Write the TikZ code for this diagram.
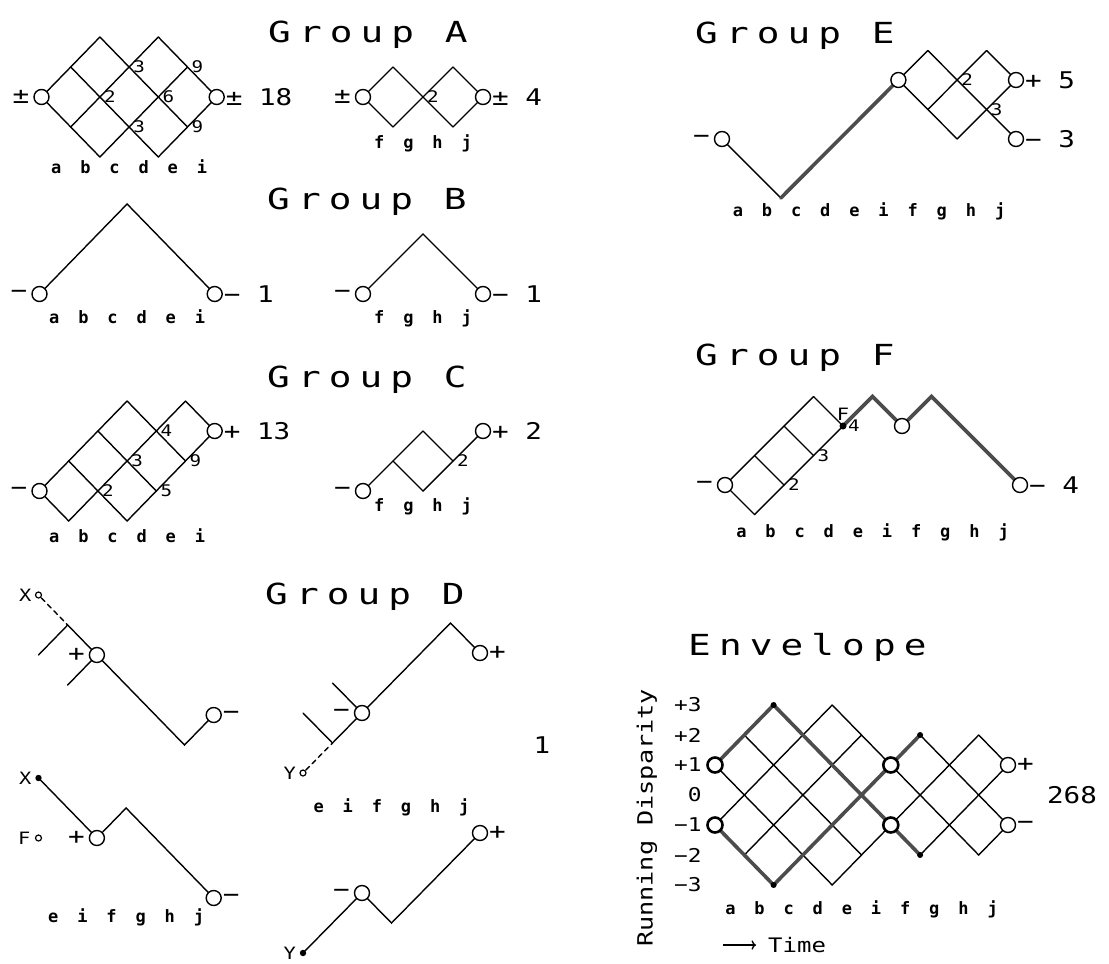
\documentclass[tikz,border=0pt]{standalone}
\usepackage{fontspec}
\usepackage{tkz-euclide}
\usetikzlibrary{arrows,calc}
\newfontfamily\ttlfont{DejaVu Sans Mono}[FakeStretch=1.3,LetterSpace=28]
\newfontfamily\plotfont{DejaVu Sans Mono}[FakeStretch=1.2]
\newfontfamily\bitfont{DejaVu Sans Mono}[LetterSpace=51]
\definecolor{PathClr}{rgb}{0.3,0.3,0.3}
\tikzset{
  title/.style={font=\fontsize{29}{29}\ttlfont,anchor=base west,inner sep=0pt},
  num/.style={font=\fontsize{23}{23}\plotfont,inner sep=0pt},
  cnt/.style={font=\fontsize{16}{16}\plotfont,inner sep=0pt,right=4pt},
  bits/.style={font=\fontsize{17}{17}\bitfont\bfseries,inner sep=0pt,anchor=base},
  axl/.style={font=\fontsize{19}{19}\plotfont,inner sep=0pt,anchor=east},
  mk/.style={font=\fontsize{17}{17}\plotfont,inner sep=0pt},
  ring/.style={draw,fill=white,line width=1.4pt},
  bigring/.style={draw,fill=white,line width=2.6pt},
  omark/.style={draw,fill=white,line width=1.2pt},
  fmark/.style={fill=black},
  heavy/.style={line width=3.6pt,color=PathClr,line cap=round},
  dashline/.style={line width=1.4pt,dash pattern=on 5pt off 4pt,shorten <=4pt}
}
\begin{document}
\begin{tikzpicture}[x=1pt,y=-1pt]
\useasboundingbox (0,0) rectangle (1109,964);
\tkzSetUpLine[line width=1.4pt,color=black]

\node[title] (tA) at (268,42) {Group A};
\node[title] (tB) at (267,209) {Group B};
\node[title] (tC) at (267,387) {Group C};
\node[title] (tD) at (265,604) {Group D};
\node[title] (tE) at (695,43) {Group E};
\node[title] (tF) at (695,365) {Group F};
\node[title] (tN) at (688,655) {Envelope};

\begin{scope}[shift={(41.5,97)},x=29.2pt,y=30pt]
\tkzDefPoints{0/0/A00,1/1/A11,1/-1/A1n1,2/2/A22,2/0/A20,2/-2/A2n2,3/1/A31,3/-1/A3n1,4/2/A42,4/0/A40,4/-2/A4n2,5/1/A51,5/-1/A5n1,6/0/A60}
\end{scope}
\begin{scope}[shift={(363,97)},x=30pt,y=30pt]
\tkzDefPoints{0/0/a00,1/1/a11,1/-1/a1n1,2/0/a20,3/1/a31,3/-1/a3n1,4/0/a40}
\end{scope}
\tkzDrawSegments(A00,A22 A1n1,A42 A2n2,A51 A4n2,A60 A00,A2n2 A11,A4n2 A22,A5n1 A42,A60)
\tkzDrawSegments(a00,a11 a1n1,a31 a3n1,a40 a00,a1n1 a11,a3n1 a31,a40)
\draw[ring] (A00) circle[radius=7.5pt] (A60) circle[radius=7.5pt] (a00) circle[radius=7.5pt] (a40) circle[radius=7.5pt];
\tkzLabelPoint[cnt](A20){2}
\tkzLabelPoint[cnt](A31){3}
\tkzLabelPoint[cnt](A3n1){3}
\tkzLabelPoint[cnt](A40){6}
\tkzLabelPoint[cnt](A51){9}
\tkzLabelPoint[cnt](A5n1){9}
\tkzLabelPoint[cnt](a20){2}
\tkzLabelPoint[num,left=12pt](A00){±}
\tkzLabelPoint[num,right=9pt](A60){± 18}
\tkzLabelPoint[num,left=12pt](a00){±}
\tkzLabelPoint[num,right=9pt](a40){± 4}
\node[bits] (lA) at (129.1,173) {a b c d e i};
\node[bits] (la) at (423,148) {f g h j};

\begin{scope}[shift={(39.5,294)},x=29.2pt,y=30pt]
\tkzDefPoints{0/0/B00,3/3/B33,6/0/B60}
\end{scope}
\begin{scope}[shift={(363,294)},x=30pt,y=30pt]
\tkzDefPoints{0/0/b00,2/2/b22,4/0/b40}
\end{scope}
\tkzDrawPolySeg(B00,B33,B60)
\tkzDrawPolySeg(b00,b22,b40)
\draw[ring] (B00) circle[radius=7.5pt] (B60) circle[radius=7.5pt] (b00) circle[radius=7.5pt] (b40) circle[radius=7.5pt];
\tkzLabelPoint[num,left=12pt](B00){−}
\tkzLabelPoint[num,right=9pt](B60){− 1}
\tkzLabelPoint[num,left=12pt](b00){−}
\tkzLabelPoint[num,right=9pt](b40){− 1}
\node[bits] (lB) at (127.1,323) {a b c d e i};
\node[bits] (lb) at (423,323) {f g h j};

\begin{scope}[shift={(39.5,491)},x=29.2pt,y=30pt]
\tkzDefPoints{0/0/C00,1/1/C11,1/-1/C1n1,2/2/C22,2/0/C20,3/3/C33,3/1/C31,3/-1/C3n1,4/2/C42,4/0/C40,5/3/C53,5/1/C51,6/2/C62}
\end{scope}
\begin{scope}[shift={(363,491)},x=30pt,y=30pt]
\tkzDefPoints{0/0/c00,1/1/c11,2/2/c22,2/0/c20,3/1/c31,4/2/c42}
\end{scope}
\tkzDrawSegments(C00,C33 C1n1,C53 C3n1,C62 C00,C1n1 C11,C3n1 C22,C40 C33,C51 C53,C62)
\tkzDrawSegments(c00,c22 c20,c42 c11,c20 c22,c31)
\draw[ring] (C00) circle[radius=7.5pt] (C62) circle[radius=7.5pt] (c00) circle[radius=7.5pt] (c42) circle[radius=7.5pt];
\tkzLabelPoint[cnt](C20){2}
\tkzLabelPoint[cnt](C31){3}
\tkzLabelPoint[cnt](C42){4}
\tkzLabelPoint[cnt](C40){5}
\tkzLabelPoint[cnt](C51){9}
\tkzLabelPoint[cnt](c31){2}
\tkzLabelPoint[num,left=12pt](C00){−}
\tkzLabelPoint[num,right=9pt](C62){+ 13}
\tkzLabelPoint[num,left=12pt](c00){−}
\tkzLabelPoint[num,right=9pt](c42){+ 2}
\node[bits] (lC) at (127.1,542) {a b c d e i};
\node[bits] (lc) at (423,511) {f g h j};

\begin{scope}[shift={(38.5,655)},x=29.2pt,y=30pt]
\tkzDefPoints{0/2/Dx,1/1/D11,0/0/D00,1/-1/D1n1,2/0/D20,5/-3/D5n3,6/-2/D6n2}
\end{scope}
\begin{scope}[shift={(38.5,838)},x=29.2pt,y=30pt]
\tkzDefPoints{0/2/Dl02,0/0/Dl00,2/0/Dl20,3/1/Dl31,6/-2/Dl6n2}
\end{scope}
\begin{scope}[shift={(303,713)},x=29.5pt,y=30pt]
\tkzDefPoints{0/0/Dr00,1/-1/Dr1n1,1/1/Dr11,2/0/Dr20,5/3/Dr53,6/2/Dr62,0/-2/Dry}
\end{scope}
\begin{scope}[shift={(303,953)},x=29.5pt,y=30pt]
\tkzDefPoints{0/0/Ds00,2/2/Ds22,3/1/Ds31,6/4/Ds64}
\end{scope}
\tkzDrawSegments(D00,D11 D11,D20 D1n1,D20)
\tkzDrawPolySeg(D20,D5n3,D6n2)
\tkzDrawSegments[dashline](Dx,D11)
\tkzDrawPolySeg(Dl02,Dl20,Dl31,Dl6n2)
\tkzDrawSegments(Dr00,Dr1n1 Dr1n1,Dr20 Dr11,Dr20)
\tkzDrawPolySeg(Dr20,Dr53,Dr62)
\tkzDrawSegments[dashline](Dry,Dr1n1)
\tkzDrawPolySeg(Ds00,Ds22,Ds31,Ds64)
\draw[ring] (D20) circle[radius=7.5pt] (D6n2) circle[radius=7.5pt] (Dl20) circle[radius=7.5pt] (Dl6n2) circle[radius=7.5pt];
\draw[ring] (Dr20) circle[radius=7.5pt] (Dr62) circle[radius=7.5pt] (Ds22) circle[radius=7.5pt] (Ds64) circle[radius=7.5pt];
\draw[omark] (Dx) circle[radius=3pt] (Dl00) circle[radius=3pt] (Dry) circle[radius=3pt];
\fill[fmark] (Dl02) circle[radius=3.2pt] (Ds00) circle[radius=3.2pt];
\tkzLabelPoint[mk,left=7pt](Dx){X}
\tkzLabelPoint[mk,left=7pt](Dl02){X}
\tkzLabelPoint[mk,left=8pt](Dl00){F}
\tkzLabelPoint[mk,left=7pt](Dry){Y}
\tkzLabelPoint[mk,left=7pt](Ds00){Y}
\tkzLabelPoint[num,left=12pt](D20){+}
\tkzLabelPoint[num,right=9pt](D6n2){−}
\tkzLabelPoint[num,left=12pt](Dl20){+}
\tkzLabelPoint[num,right=9pt](Dl6n2){−}
\tkzLabelPoint[num,left=12pt](Dr20){−}
\tkzLabelPoint[num,right=9pt](Dr62){+}
\tkzLabelPoint[num,left=12pt](Ds22){−}
\tkzLabelPoint[num,right=9pt](Ds64){+}
\node[num] (one) at (542,745) {1};
\node[bits] (lDl) at (126.1,922) {e i f g h j};
\node[bits] (lDr) at (391.5,812) {e i f g h j};

\begin{scope}[shift={(722,139)},x=29.4pt,y=29.5pt]
\tkzDefPoints{0/0/E00,2/-2/E2n2,6/2/E62,7/3/E73,7/1/E71,8/2/E82,8/0/E80,9/3/E93,9/1/E91,10/2/E102,10/0/E100}
\end{scope}
\tkzDrawSegments(E00,E2n2 E62,E73 E71,E93 E80,E102 E62,E80 E73,E100 E93,E102)
\tkzDrawSegments[heavy](E2n2,E62)
\draw[ring] (E00) circle[radius=7.5pt] (E62) circle[radius=7.5pt] (E102) circle[radius=7.5pt] (E100) circle[radius=7.5pt];
\tkzLabelPoint[cnt](E82){2}
\tkzLabelPoint[cnt](E91){3}
\tkzLabelPoint[num,left=12pt](E00){−}
\tkzLabelPoint[num,right=9pt](E102){+ 5}
\tkzLabelPoint[num,right=9pt](E100){− 3}
\node[bits] (lE) at (869,216) {a b c d e i f g h j};

\begin{scope}[shift={(725,485)},x=29.5pt,y=29.5pt]
\tkzDefPoints{0/0/F00,1/1/F11,1/-1/F1n1,2/2/F22,2/0/F20,3/3/F33,3/1/F31,4/2/F42,5/3/F53,6/2/F62,7/3/F73,10/0/F100}
\end{scope}
\tkzDrawSegments(F00,F33 F1n1,F42 F00,F1n1 F11,F20 F22,F31 F33,F42)
\tkzDrawPolySeg[heavy](F42,F53,F62,F73,F100)
\draw[ring] (F00) circle[radius=7.5pt] (F62) circle[radius=7.5pt] (F100) circle[radius=7.5pt];
\fill[fmark] (F42) circle[radius=3.5pt];
\tkzLabelPoint[cnt](F20){2}
\tkzLabelPoint[cnt](F31){3}
\tkzLabelPoint[cnt,right=5pt](F42){4}
\tkzLabelPoint[mk,above=5pt](F42){F}
\tkzLabelPoint[num,left=12pt](F00){−}
\tkzLabelPoint[num,right=9pt](F100){− 4}
\node[bits] (lF) at (872.5,537) {a b c d e i f g h j};

\begin{scope}[shift={(715,795)},x=29.3pt,y=30pt]
\tkzDefPoints{0/1/N01,0/-1/N0n1,1/2/N12,1/-2/N1n2,2/3/N23,2/-3/N2n3,4/3/N43,4/-3/N4n3,5/2/N52,5/-2/N5n2,6/1/N61,6/-1/N6n1,7/2/N72,7/-2/N7n2,9/2/N92,9/-2/N9n2,10/1/N101,10/-1/N10n1}
\node[axl] (lp3) at (-0.45,3) {+3};
\node[axl] (lp2) at (-0.45,2) {+2};
\node[axl] (lp1) at (-0.45,1) {+1};
\node[axl] (l0) at (-0.45,0) {0};
\node[axl] (ln1) at (-0.45,-1) {−1};
\node[axl] (ln2) at (-0.45,-2) {−2};
\node[axl] (ln3) at (-0.45,-3) {−3};
\end{scope}
\tkzDrawSegments(N01,N23 N0n1,N43 N1n2,N52 N2n3,N72 N4n3,N92 N7n2,N101 N9n2,N10n1)
\tkzDrawSegments(N0n1,N2n3 N01,N4n3 N12,N5n2 N23,N7n2 N43,N9n2 N72,N10n1 N92,N101)
\tkzDrawPolySeg[heavy](N01,N23,N7n2)
\tkzDrawPolySeg[heavy](N0n1,N2n3,N72)
\fill[fmark] (N23) circle[radius=3pt] (N2n3) circle[radius=3pt] (N72) circle[radius=3pt] (N7n2) circle[radius=3pt];
\draw[bigring] (N01) circle[radius=7.5pt] (N0n1) circle[radius=7.5pt] (N61) circle[radius=7.5pt] (N6n1) circle[radius=7.5pt];
\draw[ring] (N101) circle[radius=7.5pt] (N10n1) circle[radius=7.5pt];
\tkzLabelPoint[num,right=9pt](N101){+}
\tkzLabelPoint[num,right=9pt](N10n1){−}
\node[num] (cnt268) at (1072,795) {268};
\node[mk,font=\fontsize{21}{21}\plotfont,rotate=90] (rd) at (647,818) {Running Disparity};
\node[mk,font=\fontsize{20}{20}\plotfont,anchor=west] (time) at (768,945) {Time};
\coordinate (arr) at (723,945);
\draw[->,line width=1.3pt,shorten >=12pt] (arr) -- (time);
\node[bits] (lN) at (861.5,914) {a b c d e i f g h j};
\end{tikzpicture}
\end{document}
